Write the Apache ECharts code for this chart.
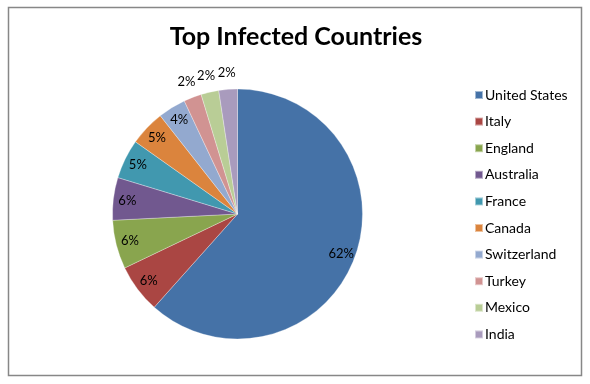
<!DOCTYPE html>
<html>
<head>
<meta charset="utf-8">
<script src="https://cdn.jsdelivr.net/npm/echarts@6/dist/echarts.min.js"></script>
<style>html,body{margin:0;padding:0;background:#fff}#c{width:590px;height:384px}</style>
</head>
<body>
<div id="c"></div>
<script>
var countries = ['United States','Italy','England','Australia','France','Canada','Switzerland','Turkey','Mexico','India'];
var shares = [61.6, 6.3, 6.3, 5.5, 5.1, 4.6, 3.6, 2.3, 2.3, 2.4];
var colors = ['#4572A7','#AA4643','#89A54E','#71588F','#4198AF','#DB843D','#93A9CF','#D19392','#B9CD96','#A99BBD'];
var outsideLabel = [false,false,false,false,false,false,false,true,true,true];

var center = [237.5, 214];
var fmt = function(p){ return Math.round(p.percent) + '%'; };
var labelFont = {fontFamily: 'Lato', fontSize: 13, color: '#000'};

var mainData = countries.map(function(n,i){ return {name:n, value:shares[i], itemStyle:{color:colors[i]}}; });
var insideData = countries.map(function(n,i){
  return {name:n, value:shares[i], label:{show: !outsideLabel[i]}};
});
var outsideData = countries.map(function(n,i){
  return {name:n, value:shares[i], label:{show: outsideLabel[i]}};
});
var clear = {color:'rgba(0,0,0,0)', borderWidth:0};

var chart = echarts.init(document.getElementById('c'), null, {renderer:'canvas'});
chart.setOption({
  animation: false,
  color: colors,
  title: {
    text: 'Top Infected Countries', left: 291, top: 19, textAlign: 'center',
    textStyle: {fontFamily: 'Lato', fontWeight: 'bold', fontSize: 25, color: '#000'}
  },
  legend: {
    orient: 'vertical', left: 469, top: 83,
    data: countries,
    icon: 'rect', itemWidth: 8, itemHeight: 8, itemGap: 12.6,
    textStyle: {fontFamily: 'Lato', fontSize: 14, color: '#000', lineHeight: 14, padding:[0,0,0,-3]}
  },
  graphic: [{
    type: 'rect', shape: {x: 8.5, y: 7.5, width: 573, height: 368},
    style: {fill: 'none', stroke: '#878787', lineWidth: 1.5}, silent: true, z: -1
  }],
  series: [
    {
      type: 'pie', center: center, radius: [0, 125], startAngle: 90, clockwise: true,
      label: {show: false}, labelLine: {show: false},
      itemStyle: {borderColor: 'rgba(255,255,255,0.5)', borderWidth: 0.6},
      emphasis: {disabled: true},
      data: mainData
    },
    {
      type: 'pie', center: center, radius: [91, 125], startAngle: 90, clockwise: true,
      itemStyle: clear, silent: true, emphasis: {disabled: true},
      label: Object.assign({position: 'inside', formatter: fmt}, labelFont),
      labelLine: {show: false},
      data: insideData
    },
    {
      type: 'pie', center: center, radius: [130, 148], startAngle: 90, clockwise: true,
      itemStyle: clear, silent: true, emphasis: {disabled: true},
      label: Object.assign({position: 'inside', formatter: fmt}, labelFont),
      labelLine: {show: false},
      data: outsideData
    }
  ]
});
</script>
</body>
</html>
